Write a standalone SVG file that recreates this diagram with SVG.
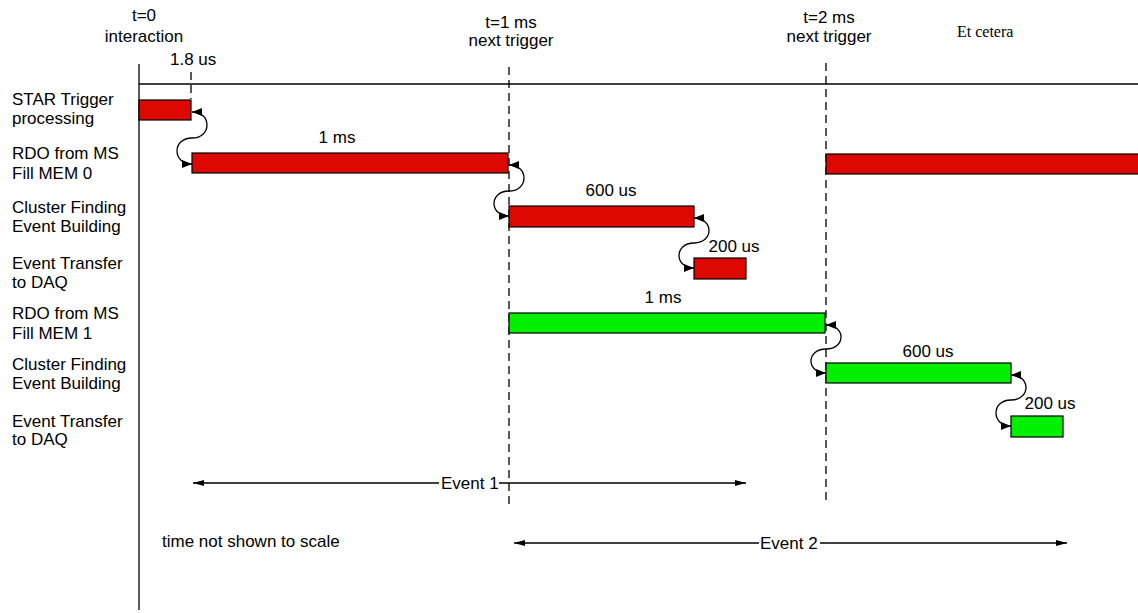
<svg xmlns="http://www.w3.org/2000/svg" width="1138" height="613" viewBox="0 0 1138 613">
<defs>
<style>
text{font-family:"Liberation Sans",Arial,sans-serif;font-size:17px;fill:#000}
.mid{text-anchor:middle}
.serif{font-family:"Liberation Serif","Times New Roman",serif;font-size:16px}
.axis{stroke:#000;stroke-width:1.3;fill:none}
.dash{stroke:#000;stroke-width:1.3;stroke-dasharray:8 5;fill:none}
.red{fill:#DD0800;stroke:#000;stroke-width:1.2}
.green{fill:#00F000;stroke:#000;stroke-width:1.2}
.conn{stroke:#000;stroke-width:1.3;fill:none;marker-start:url(#ah);marker-end:url(#ah)}
.span{stroke:#000;stroke-width:1.3;fill:none}
</style>
<marker id="ah" markerUnits="userSpaceOnUse" markerWidth="11" markerHeight="8" refX="10" refY="4" orient="auto-start-reverse">
<path d="M0,0 L10,4 L0,8 z" fill="#000"/>
</marker>
<marker id="sa" markerUnits="userSpaceOnUse" markerWidth="12" markerHeight="6" refX="11" refY="3" orient="auto-start-reverse">
<path d="M0,0 L11,3 L0,6 z" fill="#000"/>
</marker>
</defs>
<rect width="1138" height="613" fill="#fff"/>

<g id="axes">
<line class="axis" x1="139" y1="64" x2="139" y2="610"/>
<line class="axis" x1="139" y1="84" x2="1138" y2="84"/>
<line class="dash" x1="191" y1="72" x2="191" y2="99"/>
<line class="dash" x1="509" y1="67" x2="509" y2="507"/>
<line class="dash" x1="826" y1="63" x2="826" y2="502"/>
</g>

<g id="time-labels">
<text class="mid" x="144" y="21">t=0</text>
<text class="mid" x="144" y="42">interaction</text>
<text x="170" y="65">1.8 us</text>
<text class="mid" x="511" y="28">t=1 ms</text>
<text class="mid" x="511" y="46">next trigger</text>
<text class="mid" x="829" y="23">t=2 ms</text>
<text class="mid" x="829" y="42">next trigger</text>
<text class="serif" x="957" y="37">Et cetera</text>
</g>

<g id="row-labels">
<text x="12" y="105">STAR Trigger</text>
<text x="12" y="124">processing</text>
<text x="12" y="159">RDO from MS</text>
<text x="12" y="179">Fill MEM 0</text>
<text x="12" y="213">Cluster Finding</text>
<text x="12" y="232">Event Building</text>
<text x="12" y="269">Event Transfer</text>
<text x="12" y="288">to DAQ</text>
<text x="12" y="319">RDO from MS</text>
<text x="12" y="339">Fill MEM 1</text>
<text x="12" y="370">Cluster Finding</text>
<text x="12" y="389">Event Building</text>
<text x="12" y="427">Event Transfer</text>
<text x="12" y="445">to DAQ</text>
</g>

<g id="star-trigger"><rect class="red" x="139" y="100" width="52" height="20"/></g>
<g id="rdo-mem0"><rect class="red" x="192" y="153" width="316" height="20"/><text class="mid" x="337" y="143">1 ms</text></g>
<g id="cluster-1"><rect class="red" x="509" y="206" width="185" height="21"/><text class="mid" x="611" y="196">600 us</text></g>
<g id="transfer-1"><rect class="red" x="694" y="258" width="52" height="21"/><text class="mid" x="734" y="252">200 us</text></g>
<g id="rdo-mem0-next"><rect class="red" x="826" y="154" width="315" height="20"/></g>
<g id="rdo-mem1"><rect class="green" x="509" y="313" width="316" height="20"/><text class="mid" x="663" y="303">1 ms</text></g>
<g id="cluster-2"><rect class="green" x="826" y="363" width="185" height="20"/><text class="mid" x="928" y="357">600 us</text></g>
<g id="transfer-2"><rect class="green" x="1011" y="416" width="52" height="21"/><text class="mid" x="1050" y="409">200 us</text></g>

<g id="connectors">
<path class="conn" d="M192,112 C212,112 212,138 192,138 C172,138 172,164 192,164"/>
<path class="conn" d="M509,165 C529,165 529,191 509,191 C489,191 489,216 509,216"/>
<path class="conn" d="M694,218 C714,218 714,243 694,243 C674,243 674,268 694,268"/>
<path class="conn" d="M826,325 C846,325 846,349 826,349 C806,349 806,373 826,373"/>
<path class="conn" d="M1011,375 C1031,375 1031,400 1011,400 C991,400 991,426 1011,426"/>
</g>

<g id="event-1">
<line class="span" x1="193" y1="483" x2="439" y2="483" marker-start="url(#sa)"/>
<line class="span" x1="499" y1="483" x2="746" y2="483" marker-end="url(#sa)"/>
<text x="441" y="489">Event 1</text>
</g>
<g id="event-2">
<line class="span" x1="514" y1="543" x2="759" y2="543" marker-start="url(#sa)"/>
<line class="span" x1="820" y1="543" x2="1067" y2="543" marker-end="url(#sa)"/>
<text x="760" y="549">Event 2</text>
</g>
<text x="162" y="547">time not shown to scale</text>
</svg>
